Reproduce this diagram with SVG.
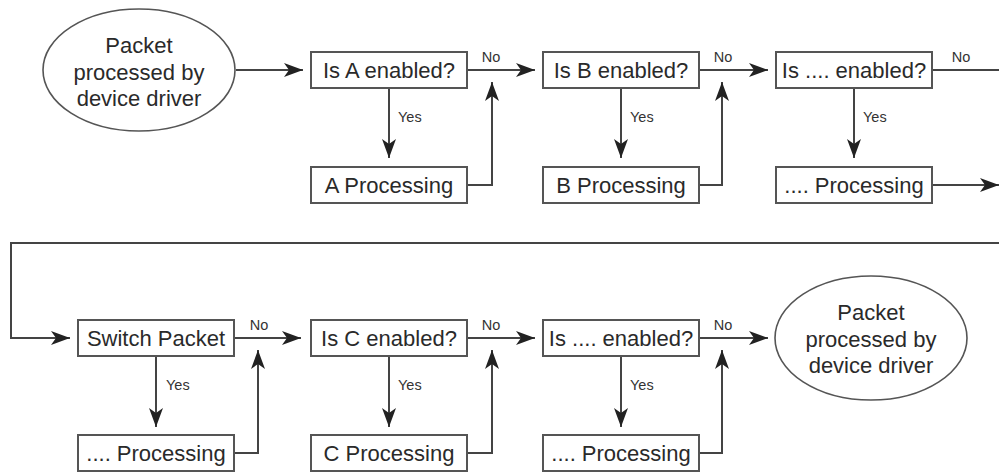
<svg xmlns="http://www.w3.org/2000/svg" width="999" height="472" viewBox="0 0 999 472">
<style>
.box{fill:#fff;stroke:#555;stroke-width:2}
.ell{fill:#fff;stroke:#555;stroke-width:1.6}
.t{font-family:"Liberation Sans",Arial,sans-serif;font-size:22px;fill:#2a2a2a;text-anchor:middle}
.s{font-family:"Liberation Sans",Arial,sans-serif;font-size:14.5px;fill:#333}
.c{fill:none;stroke:#444;stroke-width:2}
.a{marker-end:url(#ah)}
</style>
<defs>
<marker id="ah" markerUnits="userSpaceOnUse" markerWidth="22" markerHeight="18" refX="19" refY="8" orient="auto">
<path d="M0,1 L19,8 L0,15 L5,8 Z" fill="#222"/>
</marker>
</defs>
<rect width="999" height="472" fill="#fff"/>
<g id="connectors">
<path class="c a" d="M236 70 H303"/>
<path class="c a" d="M467 70 H535"/>
<path class="c a" d="M389 88 V158"/>
<path class="c a" d="M467 185 H492 V82"/>
<path class="c a" d="M699 70 H768"/>
<path class="c a" d="M621 88 V158"/>
<path class="c a" d="M699 185 H722 V82"/>
<path class="c" d="M932 70 H999"/>
<path class="c a" d="M854 88 V158"/>
<path class="c a" d="M932 185 H999"/>
<path class="c a" d="M999 243 H11 V338 H70"/>
<path class="c a" d="M234 338 H301"/>
<path class="c a" d="M156 356 V427"/>
<path class="c a" d="M234 453 H258 V350"/>
<path class="c a" d="M467 338 H535"/>
<path class="c a" d="M389 356 V427"/>
<path class="c a" d="M467 453 H492 V350"/>
<path class="c a" d="M699 338 H768"/>
<path class="c a" d="M621 356 V427"/>
<path class="c a" d="M699 453 H722 V350"/>
<text class="s" x="491" y="62" text-anchor="middle">No</text>
<text class="s" x="723" y="62" text-anchor="middle">No</text>
<text class="s" x="961" y="62" text-anchor="middle">No</text>
<text class="s" x="398" y="122">Yes</text>
<text class="s" x="630" y="122">Yes</text>
<text class="s" x="863" y="122">Yes</text>
<text class="s" x="259" y="330" text-anchor="middle">No</text>
<text class="s" x="491" y="330" text-anchor="middle">No</text>
<text class="s" x="723" y="330" text-anchor="middle">No</text>
<text class="s" x="166" y="390">Yes</text>
<text class="s" x="398" y="390">Yes</text>
<text class="s" x="630" y="390">Yes</text>
</g>
<g id="start">
<ellipse class="ell" cx="139" cy="70" rx="96" ry="61"/>
<text class="t" x="139" y="53">Packet</text>
<text class="t" x="139" y="80">processed by</text>
<text class="t" x="139" y="106">device driver</text>
</g>
<g id="isA"><rect class="box" x="311" y="52" width="156" height="36"/><text class="t" x="389" y="77.5">Is A enabled?</text></g>
<g id="procA"><rect class="box" x="311" y="167" width="156" height="36"/><text class="t" x="389" y="192.5">A Processing</text></g>
<g id="isB"><rect class="box" x="543" y="52" width="156" height="36"/><text class="t" x="621" y="77.5">Is B enabled?</text></g>
<g id="procB"><rect class="box" x="543" y="167" width="156" height="36"/><text class="t" x="621" y="192.5">B Processing</text></g>
<g id="isN1"><rect class="box" x="776" y="52" width="156" height="36"/><text class="t" x="854" y="77.5">Is .... enabled?</text></g>
<g id="procN1"><rect class="box" x="776" y="167" width="156" height="36"/><text class="t" x="854" y="192.5">.... Processing</text></g>
<g id="switch"><rect class="box" x="78" y="320" width="156" height="36"/><text class="t" x="156" y="345.5">Switch Packet</text></g>
<g id="procS"><rect class="box" x="78" y="435" width="156" height="36"/><text class="t" x="156" y="460.5">.... Processing</text></g>
<g id="isC"><rect class="box" x="311" y="320" width="156" height="36"/><text class="t" x="389" y="345.5">Is C enabled?</text></g>
<g id="procC"><rect class="box" x="311" y="435" width="156" height="36"/><text class="t" x="389" y="460.5">C Processing</text></g>
<g id="isN2"><rect class="box" x="543" y="320" width="156" height="36"/><text class="t" x="621" y="345.5">Is .... enabled?</text></g>
<g id="procN2"><rect class="box" x="543" y="435" width="156" height="36"/><text class="t" x="621" y="460.5">.... Processing</text></g>
<g id="end">
<ellipse class="ell" cx="871" cy="338" rx="96" ry="62"/>
<text class="t" x="871" y="320">Packet</text>
<text class="t" x="871" y="347">processed by</text>
<text class="t" x="871" y="373">device driver</text>
</g>
</svg>
